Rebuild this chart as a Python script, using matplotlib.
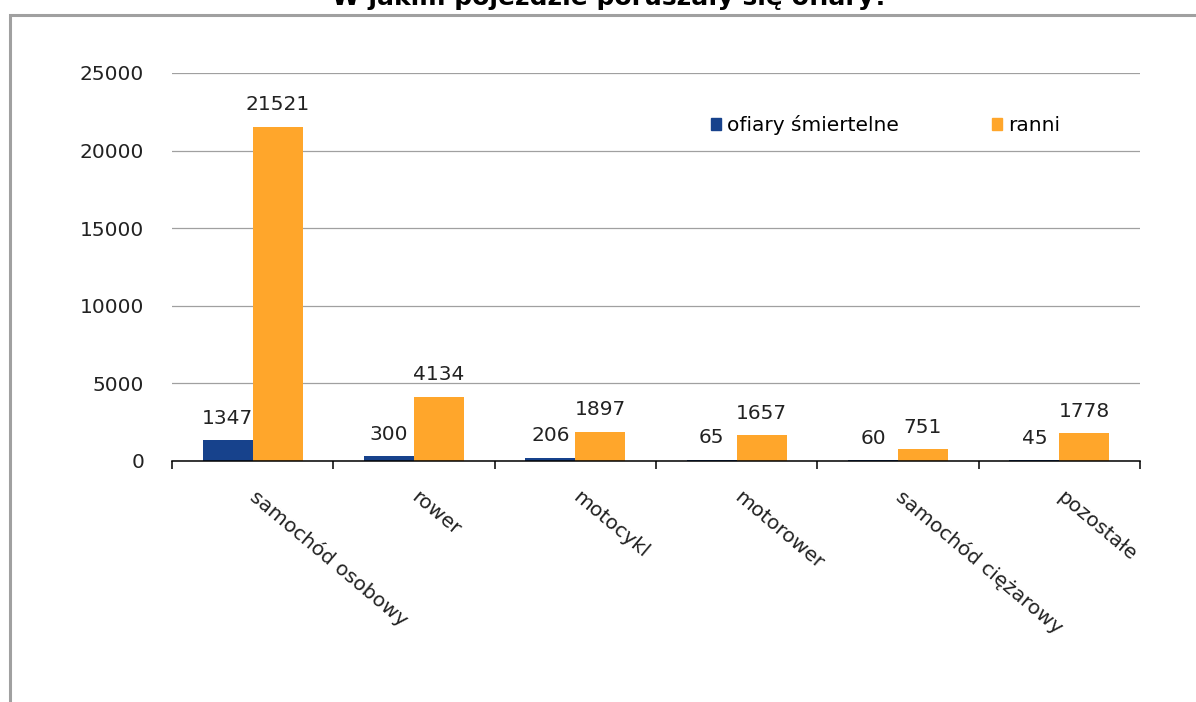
"""
Ofiary wypadków wg rodzaju pojazdu - wykres słupkowy
"""

import numpy as np
import matplotlib.pyplot as plt
from matplotlib.patches import Patch, Rectangle

kategorie = ['samochód osobowy', 'rower', 'motocykl', 'motorower',
             'samochód ciężarowy', 'pozostałe']
smiertelne = [1347, 300, 206, 65, 60, 45]
ranni = [21521, 4134, 1897, 1657, 751, 1778]
tytul = 'W jakim pojeździe poruszały się ofiary?'

niebieski = '#17428c'
pomaranczowy = '#ffa62b'
szary = '#a0a0a0'
fs = 14.5

plt.rcParams['font.family'] = ['DejaVu Sans']

W, H = 1196, 702
fig = plt.figure(figsize=(W / 100, H / 100), dpi=100)

# ramka wokół wykresu (ucięta z prawej i z dołu)
fig.patches.append(Rectangle((9.5 / W, -0.1), 1.2, 1.1 - 14.5 / H,
                             transform=fig.transFigure, fill=False,
                             edgecolor=szary, linewidth=2.2))

# tytuł - widoczna tylko dolna część
fig.text(610 / W, 1 - 5 / H, tytul, ha='center', va='baseline',
         fontsize=18, fontweight='bold')

ax = fig.add_axes([172 / W, 1 - 461 / H, (1140 - 172) / W, (461 - 73) / H])

x = np.arange(len(kategorie))
w = 0.31
b1 = ax.bar(x - w / 2, smiertelne, w, color=niebieski)
b2 = ax.bar(x + w / 2, ranni, w, color=pomaranczowy)

for rect, v in zip(list(b1) + list(b2), smiertelne + ranni):
    ax.annotate(str(v), (rect.get_x() + rect.get_width() / 2, v),
                xytext=(0, 9), textcoords='offset points',
                ha='center', va='bottom', fontsize=fs, color='#222222')

ax.set_xlim(-0.5, len(kategorie) - 0.5)
ax.set_ylim(0, 25000)
ax.set_yticks(np.arange(0, 25001, 5000))
ax.yaxis.grid(True, color=szary, linewidth=0.9)
ax.set_axisbelow(True)
ax.tick_params(axis='y', length=0, pad=20, labelsize=fs, labelcolor='#222222')

for s in ['top', 'right', 'left']:
    ax.spines[s].set_visible(False)
ax.spines['bottom'].set_linewidth(1.1)

# podziałka między kategoriami, etykiety na środku
ax.set_xticks(np.arange(len(kategorie) + 1) - 0.5)
ax.set_xticklabels([])
ax.tick_params(axis='x', which='major', length=6, direction='out', width=1.1)
ax.set_xticks(x, minor=True)
ax.set_xticklabels(kategorie, minor=True, rotation=-40, ha='left',
                   va='center', rotation_mode='anchor', fontsize=fs,
                   color='#222222')
ax.tick_params(axis='x', which='minor', length=0, pad=24)

uchwyty = [Patch(color=niebieski), Patch(color=pomaranczowy)]
ax.legend(uchwyty, ['ofiary śmiertelne', 'ranni'], loc='center',
          bbox_to_anchor=(0.737, 0.866), ncol=2, frameon=False,
          fontsize=fs, handlelength=0.5, handleheight=0.5,
          handletextpad=0.3, columnspacing=4.6)

fig.savefig('out.png', dpi=100)
